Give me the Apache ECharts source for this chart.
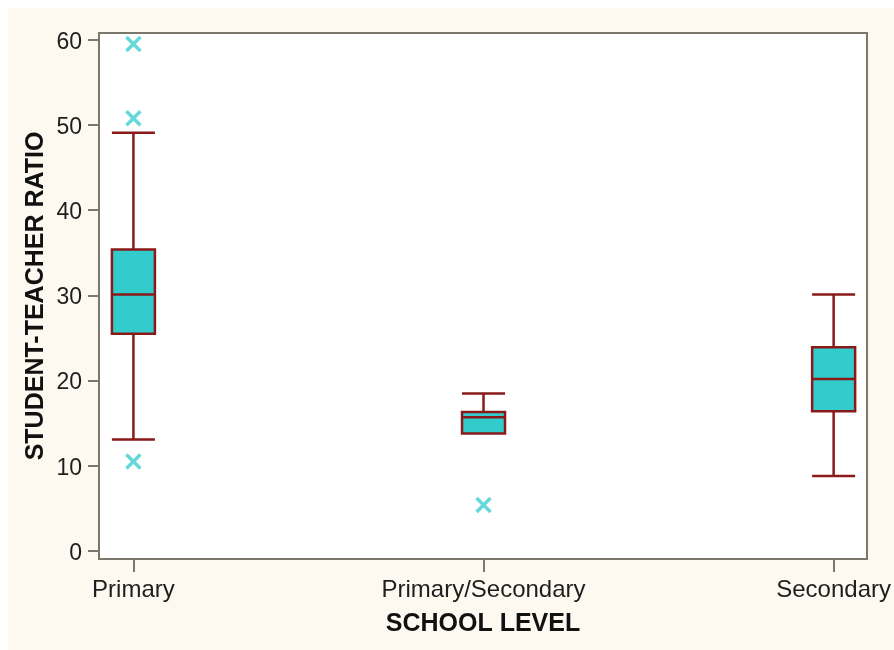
<!DOCTYPE html>
<html>
<head>
<meta charset="utf-8">
<title>Student-teacher ratio by school level</title>
<script src="https://cdn.jsdelivr.net/npm/echarts@6/dist/echarts.min.js"></script>
<style>
  html, body { margin: 0; padding: 0; background: #ffffff; }
  #wrap { position: relative; width: 894px; height: 650px; background: #ffffff; overflow: hidden; }
  #chart { position: absolute; left: 8px; top: 8px; width: 886px; height: 642px; background: #fdf9f0; }
</style>
</head>
<body>
<div id="wrap"><div id="chart"></div></div>
<script>
// School levels along the horizontal axis
const categories = ['Primary', 'Primary/Secondary', 'Secondary'];

// Five-number summaries per level: [min whisker, Q1, median, Q3, max whisker]
const boxStats = [
  [13.1, 25.5, 30.1, 35.4, 49.1],
  [13.8, 13.8, 15.7, 16.3, 18.5],
  [8.8, 16.4, 20.2, 23.9, 30.1]
];

// Outliers: [level index, ratio]
const outliers = [
  [0, 59.5],
  [0, 50.8],
  [0, 10.5],
  [1, 5.4]
];

// Tick values
const yTicks = [0, 10, 20, 30, 40, 50, 60];
const xTicks = [0, 1, 2];

const frameColor = '#7b776c';
const textColor = '#1e1e1e';

const boxData = boxStats.map((s, i) => [i].concat(s));

const chart = echarts.init(document.getElementById('chart'), null, { renderer: 'canvas' });

chart.setOption({
  animation: false,
  backgroundColor: 'transparent',
  grid: {
    left: 91,
    top: 25,
    width: 770,
    height: 526,
    show: true,
    backgroundColor: '#ffffff',
    borderColor: frameColor,
    borderWidth: 2
  },
  xAxis: {
    type: 'value',
    min: -0.0983,
    max: 2.0954,
    name: 'SCHOOL LEVEL',
    nameLocation: 'middle',
    nameGap: 53,
    nameMoveOverlap: false,
    nameTextStyle: {
      fontFamily: 'Liberation Sans',
      fontWeight: 'bold',
      fontSize: 25,
      color: '#111111'
    },
    axisLine: { show: false, onZero: false },
    splitLine: { show: false },
    axisTick: {
      show: true,
      length: 13,
      customValues: xTicks,
      lineStyle: { color: frameColor, width: 2 }
    },
    axisLabel: {
      customValues: xTicks,
      margin: 19,
      fontFamily: 'Liberation Sans',
      fontSize: 24,
      color: textColor,
      formatter: v => categories[Math.round(v)]
    }
  },
  yAxis: {
    type: 'value',
    min: -0.94,
    max: 60.8,
    name: 'STUDENT-TEACHER RATIO',
    nameLocation: 'middle',
    nameGap: 50,
    nameMoveOverlap: false,
    nameTextStyle: {
      fontFamily: 'Liberation Sans',
      fontWeight: 'bold',
      fontSize: 25,
      color: '#111111'
    },
    axisLine: { show: false, onZero: false },
    splitLine: { show: false },
    axisTick: {
      show: true,
      length: 11,
      customValues: yTicks,
      lineStyle: { color: frameColor, width: 2 }
    },
    axisLabel: {
      customValues: yTicks,
      margin: 17,
      fontFamily: 'Liberation Sans',
      fontSize: 23,
      color: textColor,
      formatter: v => '{v|' + v + '}',
      rich: {
        v: {
          padding: [5, 0, 0, 0],
          fontFamily: 'Liberation Sans',
          fontSize: 23,
          color: textColor
        }
      }
    }
  },
  series: [
    {
      type: 'boxplot',
      data: boxData,
      boxWidth: [43, 43],
      itemStyle: {
        color: '#33cccc',
        borderColor: '#8a1a1a',
        borderWidth: 2.5
      }
    },
    {
      type: 'scatter',
      data: outliers,
      symbol: 'path://M0,0L10,10M10,0L0,10',
      symbolSize: 14,
      itemStyle: {
        color: 'none',
        borderColor: '#3fcfcf',
        borderWidth: 3.5
      }
    }
  ]
});
</script>
</body>
</html>
